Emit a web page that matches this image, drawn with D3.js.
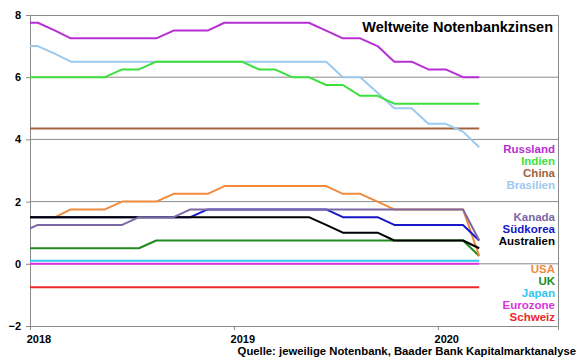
<!DOCTYPE html>
<html>
<head>
<meta charset="utf-8">
<script src="https://cdn.jsdelivr.net/npm/d3@7"></script>
<style>
	body { margin:0; background:#fff; }
	text { font-family: Arial, 'Liberation Sans', sans-serif; font-weight:bold; }
</style>
</head>
<body>
<div id="chart"></div>
<script>
// monthly values, Dez 2017 bis Maerz 2020 (Dez 2017 wird am Rand abgeschnitten)
var firstMonth = '2017-12', lastMonth = '2020-03'
var yTicks = [-2, 0, 2, 4, 6, 8]
var xTicks = ['2018', '2019', '2020']

var russland   = [7.75, 7.75,7.5,7.25,7.25,7.25,7.25,7.25,7.25,7.5,7.5,7.5,7.75, 7.75,7.75,7.75,7.75,7.75,7.5,7.25,7.25,7.0,6.5,6.5,6.25, 6.25,6.0,6.0]
var indien     = [6.0, 6.0,6.0,6.0,6.0,6.0,6.25,6.25,6.5,6.5,6.5,6.5,6.5, 6.5,6.25,6.25,6.0,6.0,5.75,5.75,5.4,5.4,5.15,5.15,5.15, 5.15,5.15,5.15]
var china      = [4.35, 4.35,4.35,4.35,4.35,4.35,4.35,4.35,4.35,4.35,4.35,4.35,4.35, 4.35,4.35,4.35,4.35,4.35,4.35,4.35,4.35,4.35,4.35,4.35,4.35, 4.35,4.35,4.35]
var brasilien  = [7.0, 7.0,6.75,6.5,6.5,6.5,6.5,6.5,6.5,6.5,6.5,6.5,6.5, 6.5,6.5,6.5,6.5,6.5,6.5,6.0,6.0,5.5,5.0,5.0,4.5, 4.5,4.25,3.75]
var kanada     = [1.0, 1.25,1.25,1.25,1.25,1.25,1.25,1.5,1.5,1.5,1.75,1.75,1.75, 1.75,1.75,1.75,1.75,1.75,1.75,1.75,1.75,1.75,1.75,1.75,1.75, 1.75,1.75,0.75]
var suedkorea  = [1.5, 1.5,1.5,1.5,1.5,1.5,1.5,1.5,1.5,1.5,1.5,1.75,1.75, 1.75,1.75,1.75,1.75,1.75,1.75,1.5,1.5,1.5,1.25,1.25,1.25, 1.25,1.25,0.75]
var australien = [1.5, 1.5,1.5,1.5,1.5,1.5,1.5,1.5,1.5,1.5,1.5,1.5,1.5, 1.5,1.5,1.5,1.5,1.5,1.25,1.0,1.0,1.0,0.75,0.75,0.75, 0.75,0.75,0.5]
var usa        = [1.5, 1.5,1.5,1.75,1.75,1.75,2.0,2.0,2.0,2.25,2.25,2.25,2.5, 2.5,2.5,2.5,2.5,2.5,2.5,2.25,2.25,2.0,1.75,1.75,1.75, 1.75,1.75,0.25]
var uk         = [0.5, 0.5,0.5,0.5,0.5,0.5,0.5,0.5,0.75,0.75,0.75,0.75,0.75, 0.75,0.75,0.75,0.75,0.75,0.75,0.75,0.75,0.75,0.75,0.75,0.75, 0.75,0.75,0.25]
var japan      = [0.1, 0.1,0.1,0.1,0.1,0.1,0.1,0.1,0.1,0.1,0.1,0.1,0.1, 0.1,0.1,0.1,0.1,0.1,0.1,0.1,0.1,0.1,0.1,0.1,0.1, 0.1,0.1,0.1]
var eurozone   = [0, 0,0,0,0,0,0,0,0,0,0,0,0, 0,0,0,0,0,0,0,0,0,0,0,0, 0,0,0]
var schweiz    = [-0.75, -0.75,-0.75,-0.75,-0.75,-0.75,-0.75,-0.75,-0.75,-0.75,-0.75,-0.75,-0.75, -0.75,-0.75,-0.75,-0.75,-0.75,-0.75,-0.75,-0.75,-0.75,-0.75,-0.75,-0.75, -0.75,-0.75,-0.75]

// drawing order bottom -> top
var series = [
	{name:'Schweiz', values:schweiz, color:'#ec2a2a'},
	{name:'Eurozone', values:eurozone, color:'#d933e0'},
	{name:'Japan', values:japan, color:'#33c6ee'},
	{name:'UK', values:uk, color:'#218a21'},
	{name:'USA', values:usa, color:'#f08a3c'},
	{name:'Südkorea', values:suedkorea, color:'#1818c8'},
	{name:'Australien', values:australien, color:'#000000'},
	{name:'Kanada', values:kanada, color:'#7a68a6'},
	{name:'China', values:china, color:'#a0643c'},
	{name:'Brasilien', values:brasilien, color:'#9ccaee'},
	{name:'Indien', values:indien, color:'#3ddf3d'},
	{name:'Russland', values:russland, color:'#b52fd2'}
]

// legend groups, top to bottom
var legendGroups = [
	['Russland', 'Indien', 'China', 'Brasilien'],
	['Kanada', 'Südkorea', 'Australien'],
	['USA', 'UK', 'Japan', 'Eurozone', 'Schweiz']
]
var legendTop = [153, 220.5, 273]

var width = 580, height = 359
var margin = {top:15, left:30, right:22, bottom:33}
var plotW = width - margin.left - margin.right
var plotH = height - margin.top - margin.bottom

var parseMonth = d3.timeParse('%Y-%m')
var months = d3.timeMonth.range(parseMonth(firstMonth), d3.timeMonth.offset(parseMonth(lastMonth), 1))
	.map(function(d) { return d3.timeDay.offset(d, 14) })

var x = d3.scaleTime()
	.domain([new Date(2018, 0, 1), new Date(2020, 7, 3)])
	.range([0, plotW])
var y = d3.scaleLinear().domain([-2, 8]).range([plotH, 0])

var svg = d3.select('#chart').append('svg')
	.attr('width', width).attr('height', height)
var g = svg.append('g').attr('transform', 'translate(' + margin.left + ',' + margin.top + ')')

g.append('clipPath').attr('id', 'clip')
	.append('rect').attr('width', plotW).attr('height', plotH)

// gridlines
g.selectAll('.grid').data(yTicks.filter(function(d) { return d > -2 && d < 8 }))
	.enter().append('line')
	.attr('class', 'grid')
	.attr('x1', 0).attr('x2', plotW)
	.attr('y1', function(d) { return y(d) }).attr('y2', function(d) { return y(d) })
	.style('stroke', '#8a8a8a').style('stroke-width', 1)

// box top/right
g.append('path')
	.attr('d', 'M0,0.5H' + (plotW + 0.5) + 'V' + plotH)
	.style('fill', 'none').style('stroke', '#8a8a8a').style('stroke-width', 1)

// axes
var yAxis = g.append('g').call(d3.axisLeft(y).tickValues(yTicks).tickSize(4).tickPadding(5))
var xAxis = g.append('g').attr('transform', 'translate(0,' + plotH + ')')
	.call(d3.axisBottom(x).tickValues(xTicks.map(function(d) { return new Date(+d, 0, 1) }))
		.tickSize(4).tickPadding(5).tickFormat(d3.timeFormat('%Y')))
svg.selectAll('.domain, .tick line').style('stroke', '#8a8a8a')
svg.selectAll('.tick text').style('font-size', '11px').style('fill', '#000')
// year labels sit at mid January
xAxis.selectAll('.tick text').attr('dx', x(new Date(2018, 0, 16)) - x(new Date(2018, 0, 1)))

// lines
var line = d3.line()
	.x(function(d, i) { return x(months[i]) })
	.y(function(d) { return y(d) })

g.append('g').attr('clip-path', 'url(#clip)')
	.selectAll('.series').data(series)
	.enter().append('path')
	.attr('class', 'series')
	.attr('d', function(d) { return line(d.values) })
	.style('fill', 'none')
	.style('stroke', function(d) { return d.color })
	.style('stroke-width', 2)
	.style('stroke-linejoin', 'round')

// legend
var colorOf = {}
series.forEach(function(s) { colorOf[s.name] = s.color })
legendGroups.forEach(function(group, gi) {
	svg.selectAll('.legend' + gi).data(group)
		.enter().append('text')
		.attr('class', 'legend' + gi)
		.attr('x', 555)
		.attr('y', function(d, i) { return legendTop[gi] + i * 12 })
		.attr('text-anchor', 'end')
		.style('font-size', '11.5px')
		.style('fill', function(d) { return colorOf[d] })
		.text(function(d) { return d })
})

svg.append('text')
	.attr('x', 553).attr('y', 32)
	.attr('text-anchor', 'end')
	.style('font-size', '14.5px')
	.text('Weltweite Notenbankzinsen')

svg.append('text')
	.attr('x', 576).attr('y', 355)
	.attr('text-anchor', 'end')
	.style('font-size', '11.3px')
	.text('Quelle: jeweilige Notenbank, Baader Bank Kapitalmarktanalyse')
</script>
</body>
</html>
